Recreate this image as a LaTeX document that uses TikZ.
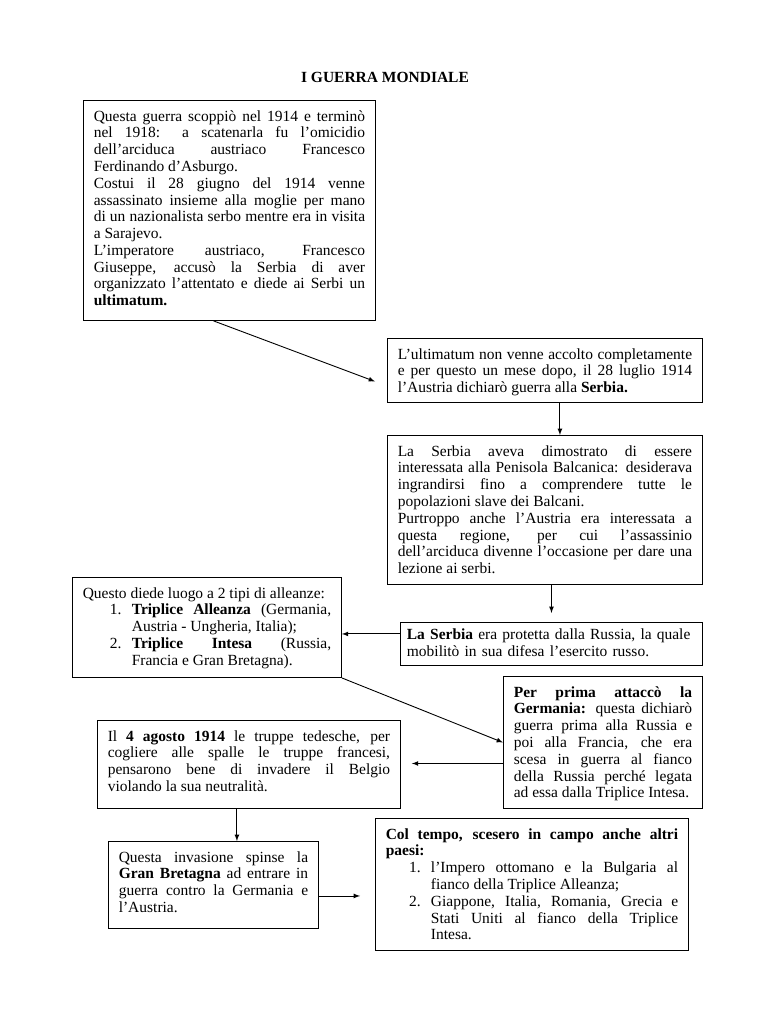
\documentclass[tikz,border=0pt]{standalone}
\usepackage{fontspec}
\setmainfont{Liberation Serif}
\usepackage{enumitem}
\setlist[enumerate]{nosep, labelsep=8pt}
\usetikzlibrary{calc}
\tolerance=9999
\hbadness=10000

\begin{document}
\begin{tikzpicture}[x=0.7747pt, y=-0.7747pt, font=\fontsize{12pt}{13pt}\selectfont,
      >=latex, line width=0.7pt,
      box/.style={draw, anchor=north west, align=justify, inner xsep=8pt, inner ysep=4pt, text height=12pt}]
    \useasboundingbox (0,0) rectangle (768,1024);
    \node (title) at (385,77) {\textbf{I GUERRA MONDIALE}};
    % the assassination and the ultimatum
    \node[box, text width=210.2pt, text depth=150.4pt] (intro) at (83,100)
      {Questa guerra scoppiò nel 1914 e terminò\linebreak
       nel 1918: a scatenarla fu l'omicidio\linebreak
       dell'arciduca austriaco Francesco\linebreak
       Ferdinando d'Asburgo.\par
       Costui il 28 giugno del 1914 venne\linebreak
       assassinato insieme alla moglie per mano\linebreak
       di un nazionalista serbo mentre era in visita\linebreak
       a Sarajevo.\par
       L'imperatore austriaco, Francesco\linebreak
       Giuseppe, accusò la Serbia di aver\linebreak
       organizzato l'attentato e diede ai Serbi un\linebreak
       \textbf{ultimatum.}};
    \node[box, text width=228pt, text depth=29.6pt] (ultimatum) at (387,338)
      {L'ultimatum non venne accolto completamente\linebreak
       e per questo un mese dopo, il 28 luglio 1914\linebreak
       l'Austria dichiarò guerra alla \textbf{Serbia.}};
    \node[box, text width=228pt, text depth=95.4pt] (serbia) at (387,435)
      {La Serbia aveva dimostrato di essere\linebreak
       interessata alla Penisola Balcanica: desiderava\linebreak
       ingrandirsi fino a comprendere tutte le\linebreak
       popolazioni slave dei Balcani.\par
       Purtroppo anche l'Austria era interessata a\linebreak
       questa regione, per cui l'assassinio\linebreak
       dell'arciduca divenne l'occasione per dare una\linebreak
       lezione ai serbi.};
    % alliances
    \node[box, text width=224pt, inner xsep=5pt, text height=9pt, text depth=16.3pt, align=left] (russia) at (400,622)
      {\textbf{La Serbia} era protetta dalla Russia, la quale\\
       mobilitò in sua difesa l'esercito russo.};
    \node[box, text width=192.4pt, text depth=57.5pt] (alleanze) at (72,577)
      {Questo diede luogo a 2 tipi di alleanze:
       \begin{enumerate}[leftmargin=38pt]
         \item \textbf{Triplice Alleanza} (Germania,\linebreak Austria - Ungheria, Italia);
         \item \textbf{Triplice Intesa} (Russia,\linebreak Francia e Gran Bretagna).
       \end{enumerate}};
    % the war begins
    \node[box, text width=138.2pt, text depth=82.3pt] (germania) at (503,676)
      {\textbf{Per prima attaccò la\linebreak
       Germania:} questa dichiarò\linebreak
       guerra prima alla Russia e\linebreak
       poi alla Francia, che era\linebreak
       scesa in guerra al fianco\linebreak
       della Russia perché legata\linebreak
       ad essa dalla Triplice Intesa.};
    \node[box, text width=218.7pt, text depth=48.2pt] (belgio) at (97,720)
      {Il \textbf{4 agosto 1914} le truppe tedesche, per\linebreak
       cogliere alle spalle le truppe francesi,\linebreak
       pensarono bene di invadere il Belgio\linebreak
       violando la sua neutralità.};
    \node[box, text width=146.7pt, text depth=47.4pt] (bretagna) at (108,841)
      {Questa invasione spinse la\linebreak
       \textbf{Gran Bretagna} ad entrare in\linebreak
       guerra contro la Germania e\linebreak
       l'Austria.};
    \node[box, text width=226.5pt, text depth=82.3pt] (paesi) at (375,818)
      {\textbf{Col tempo, scesero in campo anche altri\linebreak paesi:}
       \begin{enumerate}[leftmargin=35pt]
         \item l'Impero ottomano e la Bulgaria al\linebreak fianco della Triplice Alleanza;
         \item Giappone, Italia, Romania, Grecia e\linebreak Stati Uniti al fianco della Triplice\linebreak Intesa.
       \end{enumerate}};
    % arrows
    \draw[->] ($(intro.south)+(-16,0)$) -- ($(ultimatum.west)+(-12,11)$);
    \draw[->] ($(ultimatum.south)+(15,0)$) -- ($(serbia.north)+(15,0)$);
    \draw[->, shorten >=7pt] (serbia.south -| russia.north) -- (russia.north);
    \draw[->] ($(russia.west)+(0,-10)$) coordinate (r) -- (r -| alleanze.east);
    \draw[->] (alleanze.south east) -- (germania.west);
    \draw[->] ($(germania.west)+(0,21)$) coordinate (g) -- ($(g -| belgio.east)+(11,0)$);
    \draw[->] ($(belgio.south)+(-12,0)$) coordinate (b) -- (b |- bretagna.north);
    \draw[->] ($(bretagna.east)+(0,11)$) coordinate (c) -- ($(c -| paesi.west)+(-15,0)$);
  \end{tikzpicture}
\end{document}
